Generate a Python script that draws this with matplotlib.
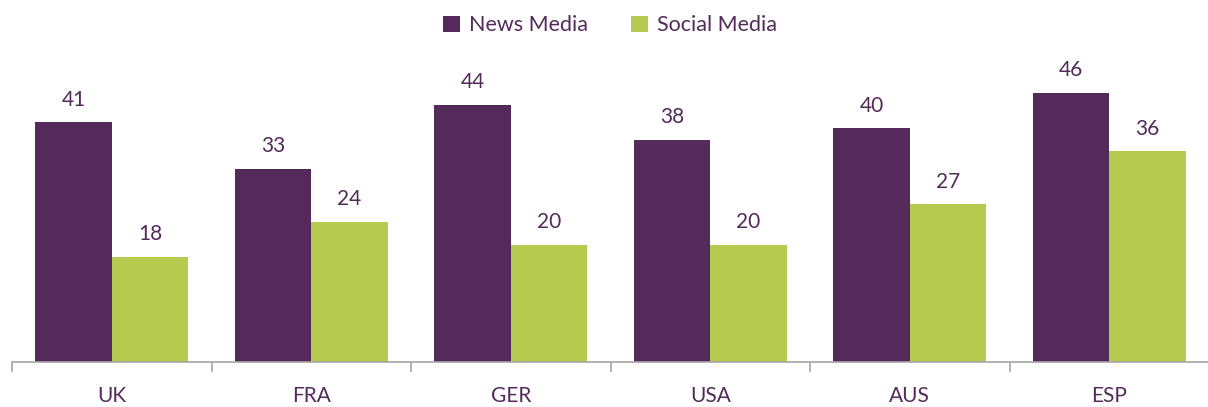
import numpy as np
import matplotlib.pyplot as plt

plt.rcParams['font.family'] = ['Lato', 'DejaVu Sans']

countries = ['UK', 'FRA', 'GER', 'USA', 'AUS', 'ESP']
news_media = [41, 33, 44, 38, 40, 46]
social_media = [18, 24, 20, 20, 27, 36]

purple = '#532A5A'
green = '#B6CA50'

fig = plt.figure(figsize=(12.08, 4.07), dpi=100)
ax = fig.add_axes([12 / 1208, 45 / 407, 1197 / 1208, 292.5 / 407])

x = np.arange(len(countries))
w = 0.384
b1 = ax.bar(x - w / 2, news_media, w, color=purple, label='News Media')
b2 = ax.bar(x + w / 2, social_media, w, color=green, label='Social Media')

for bars, vals in [(b1, news_media), (b2, social_media)]:
    for bar, v in zip(bars, vals):
        ax.annotate(str(v), (bar.get_x() + bar.get_width() / 2, v),
                    xytext=(0, 9), textcoords='offset points',
                    ha='center', va='bottom', fontsize=15, color=purple)

ax.set_xlim(-0.5, len(countries) - 0.5)
ax.set_ylim(0, 50)
ax.set_xticks(x)
ax.set_xticklabels(countries, fontsize=15, color=purple)
ax.set_xticks(np.arange(len(countries) + 1) - 0.5, minor=True)
ax.tick_params(axis='x', which='major', length=0, pad=17)
ax.tick_params(axis='x', which='minor', length=7, width=1.2, color='#A6A6A6')
ax.set_yticks([])
for side in ['top', 'right', 'left']:
    ax.spines[side].set_visible(False)
ax.spines['bottom'].set_color('#A6A6A6')
ax.spines['bottom'].set_linewidth(1.2)

fig.legend(loc='upper center', bbox_to_anchor=(0.505, 1.01), ncol=2, frameon=False,
           fontsize=15.5, labelcolor=purple, handlelength=0.8, handleheight=0.8,
           handletextpad=0.4, columnspacing=2.0)

plt.savefig('out.png', dpi=100)
